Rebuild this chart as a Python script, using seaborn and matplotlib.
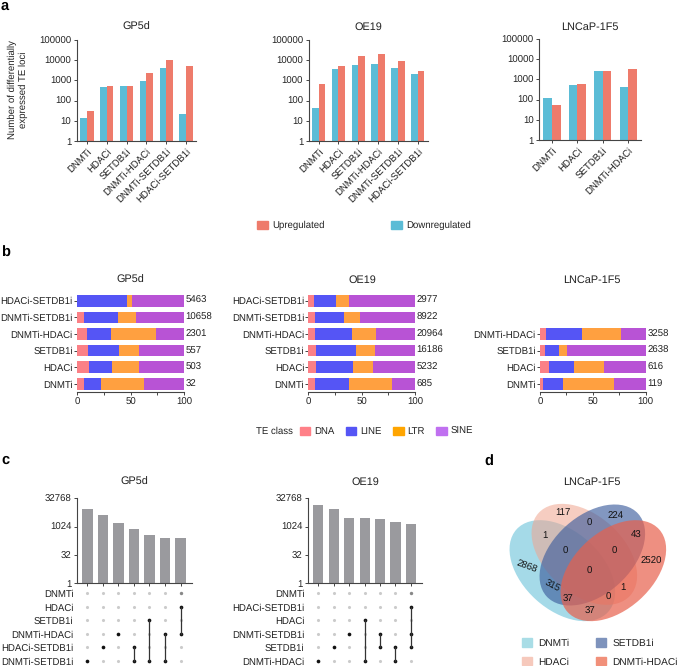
import numpy as np
import pandas as pd
import matplotlib
matplotlib.use("Agg")
import matplotlib.pyplot as plt
from matplotlib.patches import Ellipse, Patch
import seaborn as sns

sns.set_theme(style="ticks")
plt.rcParams["font.family"] = ["Liberation Sans", "DejaVu Sans"]
plt.rcParams["text.hinting"] = "no_hinting"
plt.rcParams["text.color"] = "#222222"
plt.rcParams["axes.labelcolor"] = "#222222"
plt.rcParams["xtick.labelcolor"] = "#222222"
plt.rcParams["ytick.labelcolor"] = "#222222"

W, H = 682, 666
FS = 6.9
SPINE = "#444444"

# panel a
a_gp5d_names = ["DNMTi", "HDACi", "SETDB1i", "DNMTi-HDACi", "DNMTi-SETDB1i", "HDACi-SETDB1i"]
a_gp5d_down = [14, 450, 540, 900, 4000, 21]
a_gp5d_up = [32, 503, 557, 2301, 10658, 5463]
a_oe19_names = ["DNMTi", "HDACi", "SETDB1i", "DNMTi-HDACi", "DNMTi-SETDB1i", "HDACi-SETDB1i"]
a_oe19_down = [42, 3500, 6000, 6200, 4100, 2100]
a_oe19_up = [685, 5232, 16186, 20964, 8922, 2977]
a_lncap_names = ["DNMTi", "HDACi", "SETDB1i", "DNMTi-HDACi"]
a_lncap_down = [119, 530, 2600, 400]
a_lncap_up = [55, 616, 2638, 3258]

# panel b, percentages top row first
b_gp5d_names = ["HDACi-SETDB1i", "DNMTi-SETDB1i", "DNMTi-HDACi", "SETDB1i", "HDACi", "DNMTi"]
b_gp5d_dna = [0.3, 7, 9, 10.6, 11, 6.3]
b_gp5d_line = [46.7, 31, 23, 28.4, 22, 15.7]
b_gp5d_ltr = [4, 17, 42, 19, 25, 40.5]
b_gp5d_sine = [49, 45, 26, 42, 42, 37.5]
b_gp5d_total = [5463, 10658, 2301, 557, 503, 32]

b_oe19_names = ["HDACi-SETDB1i", "DNMTi-SETDB1i", "DNMTi-HDACi", "SETDB1i", "HDACi", "DNMTi"]
b_oe19_dna = [5, 6.6, 6, 7, 7, 6]
b_oe19_line = [20.6, 26.8, 35, 38, 35, 32]
b_oe19_ltr = [12.4, 14.6, 22, 17.5, 19, 40]
b_oe19_sine = [62, 52, 37, 37.5, 39, 22]
b_oe19_total = [2977, 8922, 20964, 16186, 5232, 685]

b_lncap_names = ["DNMTi-HDACi", "SETDB1i", "HDACi", "DNMTi"]
b_lncap_dna = [5.7, 4.4, 8.8, 3]
b_lncap_line = [34.3, 13.6, 23.2, 18.5]
b_lncap_ltr = [36.6, 7.5, 29, 48.5]
b_lncap_sine = [23.4, 74.5, 39, 30]
b_lncap_total = [3258, 2638, 616, 119]

# panel c
c_gp5d_sizes = [8540, 4450, 1540, 800, 385, 245, 245]
c_gp5d_rows = ["DNMTi", "HDACi", "SETDB1i", "DNMTi-HDACi", "HDACi-SETDB1i", "DNMTi-SETDB1i"]
c_gp5d_sets = [[5], [4], [3], [4, 5], [2, 5], [3, 5], [1, 3]]
c_oe19_sizes = [13900, 8540, 2960, 2840, 2610, 1740, 1420]
c_oe19_rows = ["DNMTi", "HDACi-SETDB1i", "HDACi", "DNMTi-SETDB1i", "SETDB1i", "DNMTi-HDACi"]
c_oe19_sets = [[5], [4], [3], [2, 5], [3, 4], [4, 5], [1, 3, 4]]

# panel d
d_names = ["DNMTi", "HDACi", "SETDB1i", "DNMTi-HDACi"]
d_colors = ["#5BBCD6", "#F0A58F", "#3F5F9E", "#E8604C"]
d_alpha = [0.55, 0.55, 0.65, 0.7]
d_legend_colors = ["#A9DDE6", "#F6C9BC", "#7E93BC", "#F1907A"]
d_counts = ["117", "224", "0", "1", "43", "0", "0", "2868", "2520", "0", "315", "1", "37", "0", "37"]

UP = "#EE7B6B"
DOWN = "#5BBCD6"
TE_COLORS = ["#FB8086", "#5555F5", "#FFA040", "#B853D5"]
TE_LEGEND = ["#FF8088", "#5555F5", "#FFA500", "#C070F0"]
TE_NAMES = ["DNA", "LINE", "LTR", "SINE"]


def px_axes(fig, x0, y0, x1, y1):
    return fig.add_axes([x0 / W, 1 - y1 / H, (x1 - x0) / W, (y1 - y0) / H])


def style(ax):
    sns.despine(ax=ax)
    for s in ["left", "bottom"]:
        ax.spines[s].set_color(SPINE)
        ax.spines[s].set_linewidth(0.8)
    ax.tick_params(axis="both", length=2.5, width=0.7, color=SPINE, labelsize=FS, pad=1.5)
    ax.set_xlabel("")
    ax.set_ylabel("")


def fig_title(text, xc, yc):
    fig.text(xc / W, 1 - yc / H, text, ha="center", va="center", fontsize=7.8)


def bars_a(box, names, down, up, title, tx):
    ax = px_axes(fig, *box)
    df = pd.DataFrame({
        "treatment": names * 2,
        "n": down + up,
        "dir": ["Downregulated"] * len(names) + ["Upregulated"] * len(names),
    })
    sns.barplot(data=df, x="treatment", y="n", hue="dir", order=names,
                hue_order=["Downregulated", "Upregulated"],
                palette={"Downregulated": DOWN, "Upregulated": UP},
                width=0.67, saturation=1, linewidth=0, legend=False, ax=ax)
    ax.set_yscale("log")
    ax.set_ylim(1, 100000)
    ax.set_xlim(-0.5, len(names) - 0.5)
    ax.set_yticks([1, 10, 100, 1000, 10000, 100000], ["1", "10", "100", "1000", "10000", "100000"])
    ax.minorticks_off()
    style(ax)
    ax.tick_params(axis="x", rotation=45)
    for lab in ax.get_xticklabels():
        lab.set_ha("right")
        lab.set_rotation_mode("anchor")
    fig_title(title, tx, 27)
    return ax


def bars_b(box, names, dna, line, ltr, sine, totals, title, tx, nrows=6):
    ax = px_axes(fig, *box)
    parts = np.array([dna, line, ltr, sine], dtype=float)
    cum = np.cumsum(parts, axis=0)
    # largest cumulative first, the shorter ones go on top of it
    for i in [3, 2, 1, 0]:
        df = pd.DataFrame({"name": names, "pct": cum[i]})
        sns.barplot(data=df, y="name", x="pct", order=names, color=TE_COLORS[i],
                    width=0.7, saturation=1, linewidth=0, ax=ax)
    ax.set_ylim(len(names) - 0.5, len(names) - 0.5 - nrows)
    ax.set_xlim(0, 100)
    ax.set_xticks([0, 50, 100])
    ax.set_xticks([25, 75], minor=True)
    style(ax)
    ax.tick_params(axis="x", which="minor", length=2.5, width=0.7, color=SPINE)
    ax.tick_params(axis="y", length=2, pad=1)
    ax.spines["left"].set_visible(False)
    for i, t in enumerate(totals):
        ax.text(101.5, i, str(t), va="center", ha="left", fontsize=FS, clip_on=False)
    fig_title(title, tx, 280)
    return ax


def upset(x0, x1, sizes, rows, sets, title, tx):
    top = px_axes(fig, x0, 498.3, x1, 583.3)
    pos = list(range(len(sizes)))
    df = pd.DataFrame({"pos": pos, "size": sizes})
    sns.barplot(data=df, x="pos", y="size", color="#9A9A9E", width=0.66, saturation=1,
                linewidth=0, ax=top)
    top.set_yscale("log", base=2)
    top.set_ylim(1, 32768)
    top.set_xlim(-0.67, 6.72)
    top.set_yticks([1, 32, 1024, 32768], ["1", "32", "1024", "32768"])
    top.minorticks_off()
    style(top)
    top.set_xticks(pos, [""] * len(pos))

    low = px_axes(fig, x0, 586.6, x1, 667.7)
    dots = []
    for c, members in enumerate(sets):
        for r in range(len(rows)):
            state = "on" if r in members else "off"
            if c == len(sets) - 1 and r == 0:
                state = "shade"
            dots.append({"col": c, "row": r, "state": state})
    dots = pd.DataFrame(dots)
    for state, color, s in [("off", "#CBCBCB", 5), ("shade", "#888888", 6), ("on", "#111111", 7)]:
        sns.scatterplot(data=dots[dots.state == state], x="col", y="row", color=color, s=s,
                        linewidth=0, ax=low, legend=False)
    for c, members in enumerate(sets):
        if len(members) > 1:
            low.plot([c, c], [min(members), max(members)], color="#333333", lw=0.9, zorder=1)
    low.set_xlim(-0.67, 6.72)
    low.set_ylim(5.5, -0.5)
    low.set_yticks(range(len(rows)), rows)
    low.set_xticks([])
    style(low)
    sns.despine(ax=low, left=True, bottom=True)
    low.tick_params(axis="y", length=0, pad=2.5)
    fig_title(title, tx, 482)


fig = plt.figure(figsize=(W / 100, H / 100), dpi=100)

# a
ax_a = bars_a((77, 40, 196, 141), a_gp5d_names, a_gp5d_down, a_gp5d_up, "GP5d", 136.5)
bars_a((308.7, 40, 427.7, 141), a_oe19_names, a_oe19_down, a_oe19_up, "OE19", 368)
bars_a((539.3, 39, 641, 140), a_lncap_names, a_lncap_down, a_lncap_up, "LNCaP-1F5", 589.7)
fig.text(17.5 / W, 1 - 90 / H, "Number of differentially\nexpressed TE loci", rotation=90,
         ha="center", va="center", fontsize=FS, linespacing=1.2)
fig.legend(handles=[Patch(color=UP, label="Upregulated"), Patch(color=DOWN, label="Downregulated")],
           loc="center", bbox_to_anchor=(364 / W, 1 - 225.5 / H), ncol=2, frameon=False, fontsize=FS,
           handlelength=1.1, handleheight=0.9, handletextpad=0.45, columnspacing=7)

# b
bars_b((77, 292.4, 184, 392.2), b_gp5d_names, b_gp5d_dna, b_gp5d_line, b_gp5d_ltr, b_gp5d_sine,
       b_gp5d_total, "GP5d", 130.5)
bars_b((308.3, 292.4, 415, 392.2), b_oe19_names, b_oe19_dna, b_oe19_line, b_oe19_ltr, b_oe19_sine,
       b_oe19_total, "OE19", 362)
bars_b((540, 292.4, 645.7, 392.2), b_lncap_names, b_lncap_dna, b_lncap_line, b_lncap_ltr, b_lncap_sine,
       b_lncap_total, "LNCaP-1F5", 591.7)
fig.text(255.7 / W, 1 - 431.7 / H, "TE class", ha="left", va="center", fontsize=FS)
fig.legend(handles=[Patch(color=c, label=n) for c, n in zip(TE_LEGEND, TE_NAMES)],
           loc="center left", bbox_to_anchor=(291 / W, 1 - 431.7 / H), ncol=4, frameon=False, fontsize=FS,
           handlelength=1.1, handleheight=0.9, handletextpad=0.4, columnspacing=1.2)

# c
upset(77, 191.7, c_gp5d_sizes, c_gp5d_rows, c_gp5d_sets, "GP5d", 134.5)
upset(308, 422, c_oe19_sizes, c_oe19_rows, c_oe19_sets, "OE19", 365)

# d, axes in pixels of a 3x grid starting at (460, 450)
ax_d = px_axes(fig, 460, 450, 682, 640)
ax_d.set_xlim(0, 666)
ax_d.set_ylim(570, 0)
ax_d.axis("off")
venn_shapes = [((307, 362), 42), ((373, 313), 42), ((397, 315), -42), ((460, 362), -42)]
for (center, angle), col, al in zip(venn_shapes, d_colors, d_alpha):
    ax_d.add_patch(Ellipse(center, 370, 235, angle=angle, facecolor=col, alpha=al, linewidth=0))
count_xy = [(308, 187), (467, 197), (389, 220), (255, 257), (528, 257), (315, 303), (464, 303), (200, 350),
            (574, 335), (389, 365), (277, 410), (490, 413), (323, 448), (444, 443), (389, 485)]
for txt, (x, y) in zip(d_counts, count_xy):
    rot = {"2868": -20, "315": -28}.get(txt, 0)
    ax_d.text(x, y, txt, ha="center", va="center", fontsize=FS, rotation=rot, color="#111111")
fig_title("LNCaP-1F5", 592.3, 482)
fig.legend(handles=[Patch(color=c, label=n) for c, n in zip(d_legend_colors, d_names)],
           loc="center", bbox_to_anchor=(600 / W, 1 - 652.5 / H), ncol=2, frameon=False, fontsize=7.3,
           handlelength=1.0, handleheight=0.9, handletextpad=0.6, columnspacing=2.6, labelspacing=0.9)

# panel letters
for letter, x, y in [("a", 1, 6), ("b", 1, 253), ("c", 1, 460), ("d", 484, 462)]:
    fig.text(x / W, 1 - y / H, letter, fontsize=10.5, fontweight="bold", ha="left", va="center", color="black")

fig.savefig("out.png", dpi=100)
